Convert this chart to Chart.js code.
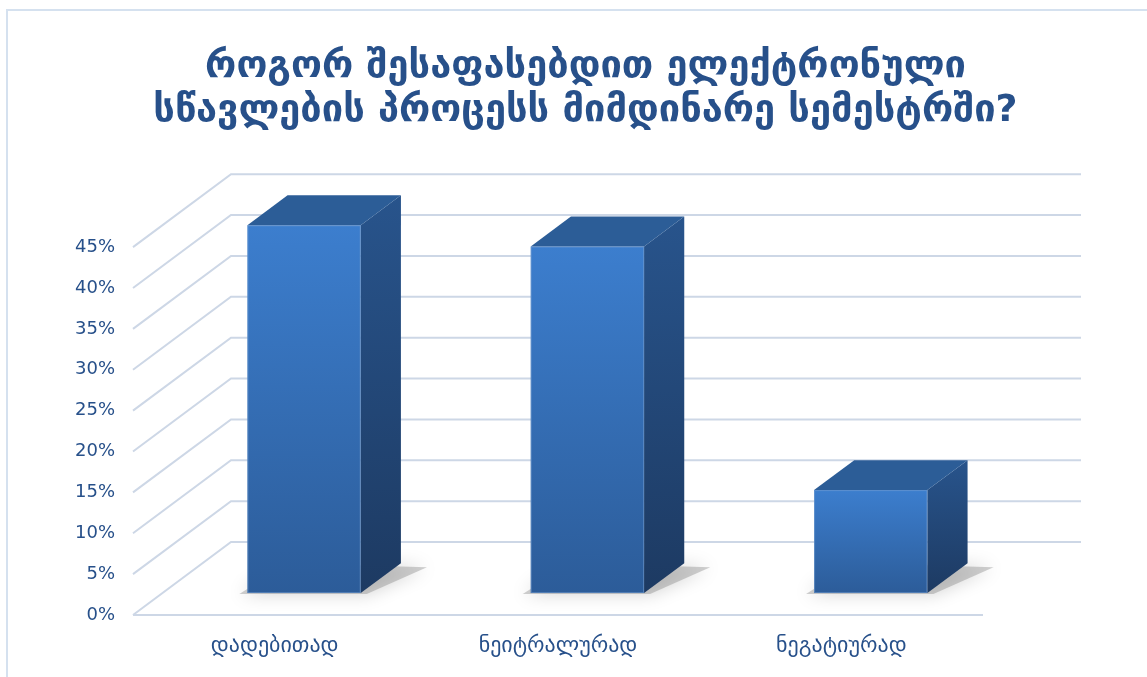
<!DOCTYPE html>
<html lang="ka">
<head>
<meta charset="UTF-8">
<title>ელექტრონული სწავლება</title>
<script src="https://cdn.jsdelivr.net/npm/chart.js@4.4.1/dist/chart.umd.min.js"></script>
<style>
  html, body { margin: 0; padding: 0; background: #fff; }
  .wrap { position: relative; width: 1147px; height: 677px; }
</style>
</head>
<body>
<div class="wrap"><canvas id="chart"></canvas></div>
<script>
// survey answers (share of respondents, %)
const categories = ['დადებითად', 'ნეიტრალურად', 'ნეგატიურად'];
const shares = [45.0, 42.4, 12.6];
const titleLines = ['როგორ შესაფასებდით ელექტრონული', 'სწავლების პროცესს მიმდინარე სემესტრში?'];

const TEXT = '#27508A';
const FONT = "'DejaVu Sans', sans-serif";

// fake 3d: depth vector of the floor, bars sit between these depth fractions
const DEPTH = { x: 98, y: -73 };
const BAR_FRONT = 0.30, BAR_BACK = 0.71;

const frame = {
    id: 'frame',
    beforeDraw(chart) {
        const ctx = chart.ctx;
        ctx.save();
        ctx.fillStyle = '#fff';
        ctx.fillRect(0, 0, chart.width, chart.height);
        ctx.strokeStyle = '#D5E1EF';
        ctx.lineWidth = 2;
        ctx.beginPath();
        ctx.moveTo(7, chart.height);
        ctx.lineTo(7, 10);
        ctx.lineTo(chart.width, 10);
        ctx.stroke();
        ctx.restore();
    }
};

// walls: diagonal on the side, horizontal on the back, front edge of the floor
const grid3d = {
    id: 'grid3d',
    beforeDatasetsDraw(chart) {
        const { ctx, chartArea: a, scales: { y } } = chart;
        ctx.save();
        ctx.strokeStyle = '#CDD7E6';
        ctx.lineWidth = 2;
        y.ticks.forEach(t => {
            const py = y.getPixelForValue(t.value);
            ctx.beginPath();
            ctx.moveTo(a.left, py);
            ctx.lineTo(a.left + DEPTH.x, py + DEPTH.y);
            ctx.lineTo(a.right + DEPTH.x, py + DEPTH.y);
            ctx.stroke();
        });
        const p0 = y.getPixelForValue(0);
        ctx.beginPath();
        ctx.moveTo(a.left, p0);
        ctx.lineTo(a.right, p0);
        ctx.stroke();
        ctx.restore();
    }
};

function poly(ctx, pts, fill) {
    ctx.beginPath();
    ctx.moveTo(pts[0][0], pts[0][1]);
    for (let i = 1; i < pts.length; i++) ctx.lineTo(pts[i][0], pts[i][1]);
    ctx.closePath();
    ctx.fillStyle = fill;
    ctx.fill();
}

const boxes = {
    id: 'boxes',
    afterDatasetsDraw(chart) {
        const ctx = chart.ctx;
        const meta = chart.getDatasetMeta(0);
        const fx = DEPTH.x * BAR_FRONT, fy = DEPTH.y * BAR_FRONT;
        const dx = DEPTH.x * (BAR_BACK - BAR_FRONT), dy = DEPTH.y * (BAR_BACK - BAR_FRONT);
        meta.data.forEach(bar => {
            const p = bar.getProps(['x', 'y', 'base', 'width'], true);
            const l = p.x - p.width / 2 + fx, r = p.x + p.width / 2 + fx;
            const t = p.y + fy, b = p.base + fy;

            ctx.save();
            // soft shadow on the floor
            ctx.shadowColor = 'rgba(0,0,0,0.5)';
            ctx.shadowBlur = 18;
            poly(ctx, [[l - 8, b + 1], [r + 6, b + 1], [r + dx + 26, b + dy + 4], [l + dx, b + dy]], 'rgba(120,120,120,0.35)');
            ctx.restore();

            ctx.save();
            const gF = ctx.createLinearGradient(0, t, 0, b);
            gF.addColorStop(0, '#3C7ECE');
            gF.addColorStop(1, '#2C5C99');
            poly(ctx, [[l, t], [r, t], [r, b], [l, b]], gF);

            const gS = ctx.createLinearGradient(0, t + dy, 0, b);
            gS.addColorStop(0, '#28548C');
            gS.addColorStop(1, '#1D3A62');
            poly(ctx, [[r, t], [r + dx, t + dy], [r + dx, b + dy], [r, b]], gS);

            poly(ctx, [[l, t], [l + dx, t + dy], [r + dx, t + dy], [r, t]], '#2C5D97');

            ctx.strokeStyle = 'rgba(120,160,210,0.55)';
            ctx.lineWidth = 1;
            ctx.strokeRect(l + 0.5, t + 0.5, r - l - 1, b - t - 1);
            ctx.restore();
        });
    }
};

new Chart(document.getElementById('chart'), {
    type: 'bar',
    data: {
        labels: categories,
        datasets: [{
            data: shares,
            backgroundColor: 'rgba(0,0,0,0)',
            borderWidth: 0,
            categoryPercentage: 1,
            barPercentage: 0.4
        }]
    },
    options: {
        responsive: true,
        maintainAspectRatio: false,
        animation: false,
        layout: { padding: { left: 24, right: 0, top: 0, bottom: 0 } },
        plugins: {
            legend: { display: false },
            tooltip: { enabled: false },
            title: {
                display: true,
                text: titleLines,
                color: TEXT,
                font: { family: FONT, size: 38, weight: 'bold', lineHeight: 1.16 },
                padding: { top: 45, bottom: 114 }
            }
        },
        scales: {
            x: {
                grid: { display: false, drawTicks: false },
                border: { display: false },
                ticks: { color: TEXT, font: { family: FONT, size: 22 }, padding: 18 },
                afterFit(scale) { scale.height = 62; }
            },
            y: {
                min: 0,
                max: 45,
                grid: { display: false, drawTicks: false },
                border: { display: false },
                ticks: {
                    stepSize: 5,
                    color: TEXT,
                    font: { family: FONT, size: 18 },
                    padding: 18,
                    callback: v => v + '%'
                },
                afterFit(scale) { scale.width = 109; }
            },
            // empty strip on the right that leaves room for the back wall
            yRight: {
                position: 'right',
                display: true,
                grid: { display: false, drawTicks: false },
                border: { display: false },
                ticks: { display: false },
                afterFit(scale) { scale.width = 164; }
            }
        }
    },
    plugins: [frame, grid3d, boxes]
});
</script>
</body>
</html>
